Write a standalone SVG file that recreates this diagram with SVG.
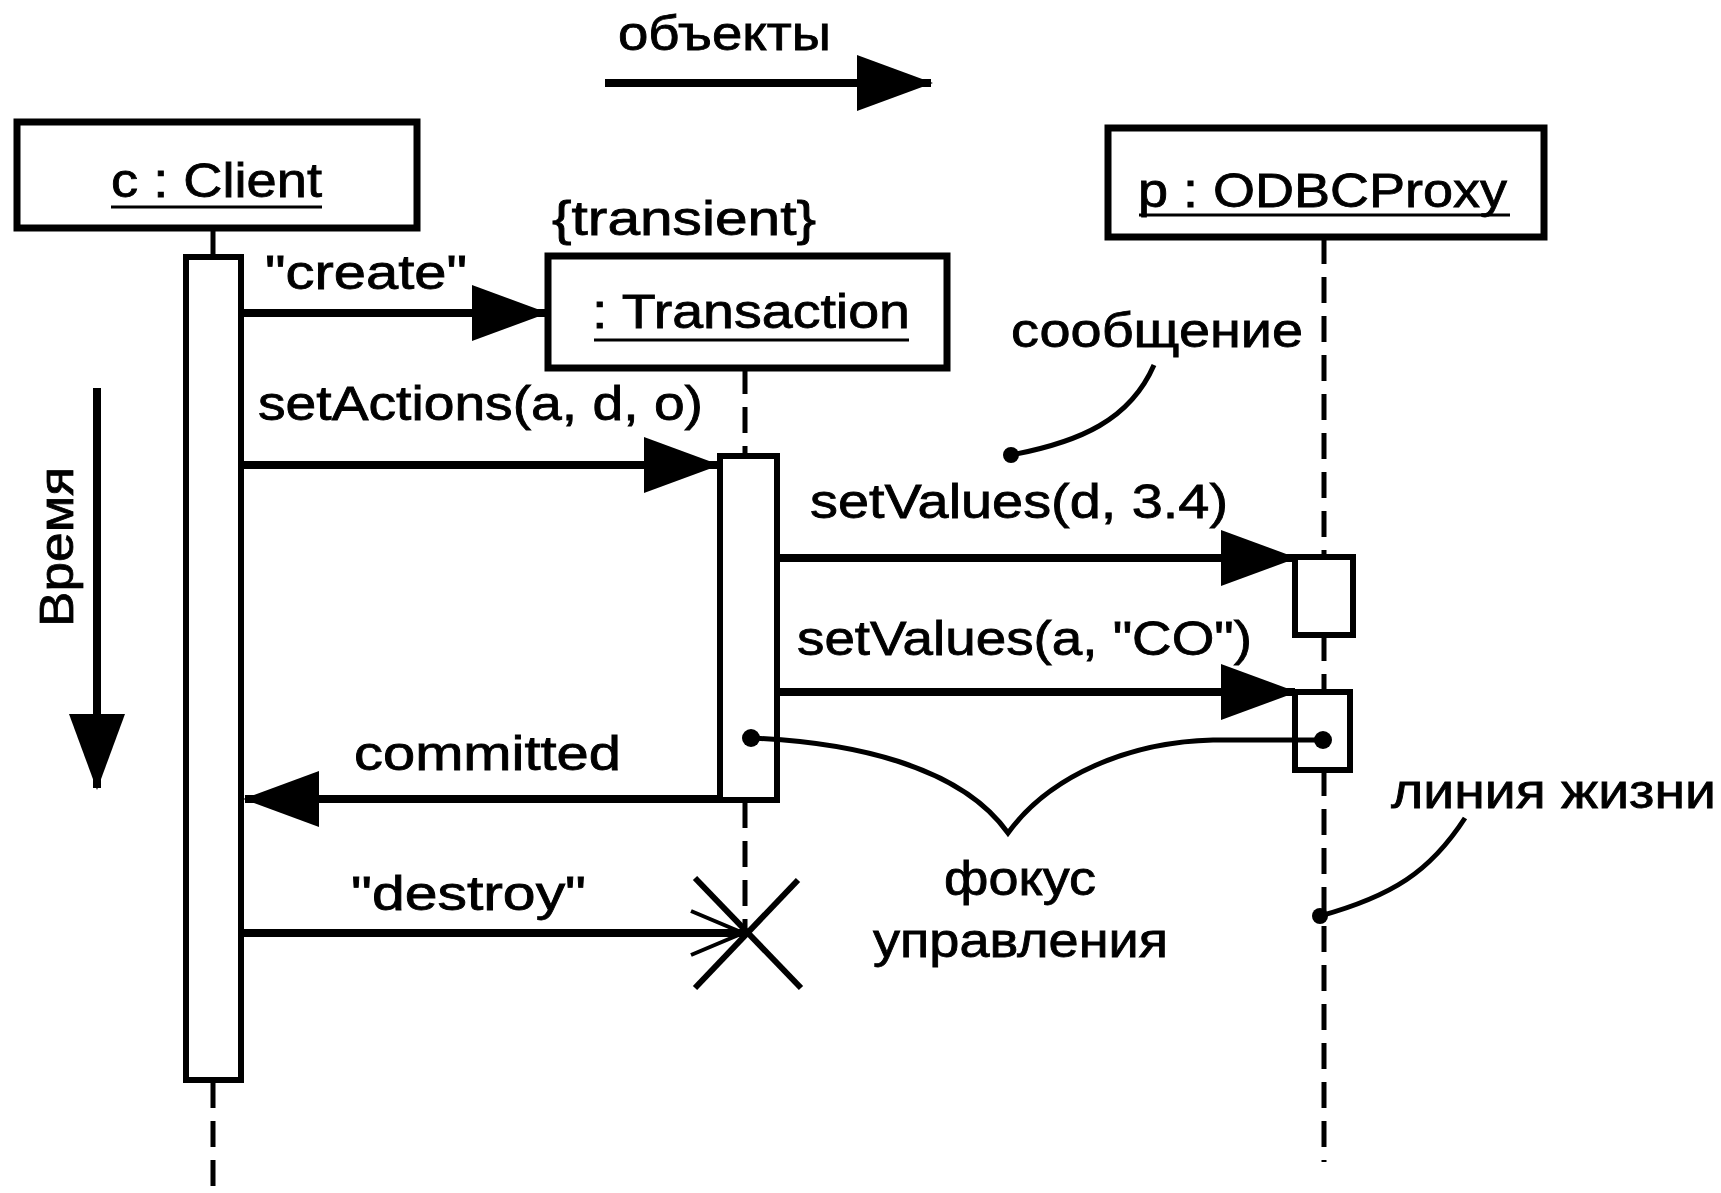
<svg xmlns="http://www.w3.org/2000/svg" width="1721" height="1193" viewBox="0 0 1721 1193">
<style>
text{font-family:"Liberation Sans",Arial,sans-serif;font-size:48px;fill:#000;stroke:#000;stroke-width:0.8}
.box{fill:#fff;stroke:#000;stroke-width:7}
.bar{fill:#fff;stroke:#000;stroke-width:6}
.msg{stroke:#000;stroke-width:8;fill:none}
.life{stroke:#000;stroke-width:5;fill:none;stroke-dasharray:26 13}
.lead{stroke:#000;stroke-width:5;fill:none}
.ul{stroke:#000;stroke-width:3}
</style>
<defs>
<marker id="head" markerUnits="userSpaceOnUse" markerWidth="76" markerHeight="56" refX="74" refY="28" orient="auto">
<path d="M0,0 L76,28 L0,56 z" fill="#000"/>
</marker>
<marker id="open" markerUnits="userSpaceOnUse" markerWidth="60" markerHeight="56" refX="56" refY="28" orient="auto">
<path d="M4,6 L56,28 L4,50" fill="none" stroke="#000" stroke-width="4"/>
</marker>
</defs>
<rect width="1721" height="1193" fill="#fff"/>

<g id="client">
<rect class="box" x="17" y="122" width="400" height="106"/>
<text x="111" y="197" textLength="211" lengthAdjust="spacingAndGlyphs">c : Client</text>
<line class="ul" x1="111" y1="207" x2="322" y2="207"/>
<rect class="bar" x="186" y="257" width="55" height="823"/>
</g>

<g id="transaction">
<text x="552" y="235" textLength="264" lengthAdjust="spacingAndGlyphs">{transient}</text>
<rect class="box" x="548" y="256" width="399" height="112"/>
<text x="592" y="328" textLength="318" lengthAdjust="spacingAndGlyphs">: Transaction</text>
<line class="ul" x1="594" y1="340" x2="909" y2="340"/>
<rect class="bar" x="720" y="456" width="57" height="344"/>
<g id="destroy-x" stroke="#000" stroke-width="6">
<line x1="695" y1="878" x2="801" y2="988"/>
<line x1="798" y1="880" x2="695" y2="988"/>
</g>
</g>

<g id="proxy">
<rect class="box" x="1108" y="128" width="436" height="109"/>
<text x="1138" y="207" textLength="369" lengthAdjust="spacingAndGlyphs">p : ODBCProxy</text>
<line class="ul" x1="1139" y1="215" x2="1510" y2="215"/>
<rect class="bar" x="1295" y="557" width="58" height="78"/>
<rect class="bar" x="1295" y="692" width="55" height="78"/>
</g>

<g id="connectors">
<line class="msg" x1="605" y1="83" x2="931" y2="83" marker-end="url(#head)"/>
<line class="msg" x1="97" y1="388" x2="97" y2="788" stroke-width="7" marker-end="url(#head)"/>
<line class="lead" x1="213" y1="228" x2="213" y2="257"/>
<line class="life" x1="213" y1="1082" x2="213" y2="1193"/>
<line class="life" x1="745" y1="368" x2="745" y2="456"/>
<line class="life" x1="745" y1="802" x2="745" y2="930"/>
<line class="life" x1="1324" y1="238" x2="1324" y2="557"/>
<line class="life" x1="1324" y1="635" x2="1324" y2="692"/>
<line class="life" x1="1324" y1="770" x2="1324" y2="1162"/>
<line class="msg" x1="242" y1="313" x2="546" y2="313" marker-end="url(#head)"/>
<line class="msg" x1="241" y1="465" x2="718" y2="465" marker-end="url(#head)"/>
<line class="msg" x1="778" y1="558" x2="1295" y2="558" marker-end="url(#head)"/>
<line class="msg" x1="778" y1="692" x2="1295" y2="692" marker-end="url(#head)"/>
<line class="msg" x1="718" y1="799" x2="245" y2="799" marker-end="url(#head)"/>
<line class="msg" x1="241" y1="933" x2="743" y2="933" stroke-width="7" marker-end="url(#open)"/>
<path class="lead" d="M1154,365 C1130,420 1080,442 1011,455"/>
<circle cx="1011" cy="455" r="8"/>
<path class="lead" d="M751,738 C850,742 960,765 1008,833 C1050,775 1130,742 1213,740 L1323,740"/>
<circle cx="751" cy="738" r="9"/>
<circle cx="1323" cy="740" r="9"/>
<path class="lead" d="M1465,818 C1430,872 1392,896 1320,916"/>
<circle cx="1320" cy="916" r="8"/>
</g>

<g id="labels">
<text x="618" y="50" textLength="213" lengthAdjust="spacingAndGlyphs">объекты</text>
<text transform="rotate(-90 73 547)" x="73" y="547" text-anchor="middle" font-size="50" textLength="160" lengthAdjust="spacingAndGlyphs">Время</text>
<text x="265" y="289" textLength="202" lengthAdjust="spacingAndGlyphs">"create"</text>
<text x="258" y="420" textLength="445" lengthAdjust="spacingAndGlyphs">setActions(a, d, o)</text>
<text x="810" y="518" textLength="418" lengthAdjust="spacingAndGlyphs">setValues(d, 3.4)</text>
<text x="797" y="655" textLength="455" lengthAdjust="spacingAndGlyphs">setValues(a, "CO")</text>
<text x="354" y="770" textLength="267" lengthAdjust="spacingAndGlyphs">committed</text>
<text x="351" y="910" textLength="235" lengthAdjust="spacingAndGlyphs">"destroy"</text>
<text x="1011" y="347" textLength="292" lengthAdjust="spacingAndGlyphs">сообщение</text>
<text x="944" y="895" textLength="152" lengthAdjust="spacingAndGlyphs">фокус</text>
<text x="873" y="957" textLength="295" lengthAdjust="spacingAndGlyphs">управления</text>
<text x="1391" y="808" textLength="325" lengthAdjust="spacingAndGlyphs">линия жизни</text>
</g>
</svg>
